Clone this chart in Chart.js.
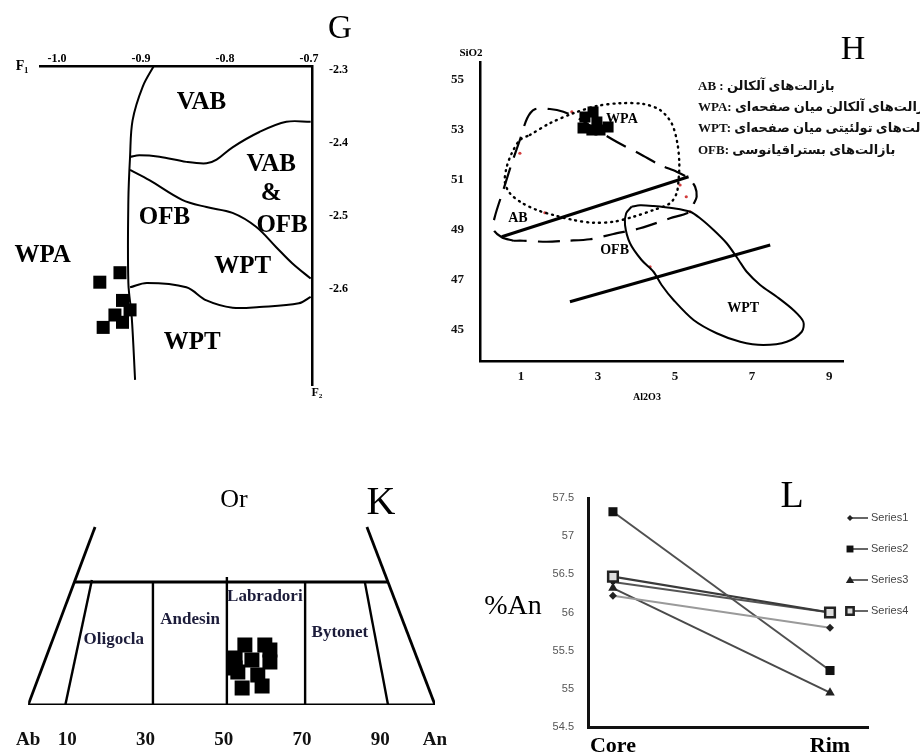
<!DOCTYPE html>
<html lang="fa">
<head>
<meta charset="utf-8">
<title>G H K L</title>
<script src="https://cdn.jsdelivr.net/npm/chart.js"></script>
<style>
  html, body { margin: 0; padding: 0; background: #fff; }
  #page { position: relative; width: 920px; height: 753px; overflow: hidden; background: #fff; }
  #page canvas { position: absolute; left: 0; top: 0; }
  .key { position: absolute; left: 698px; white-space: nowrap; direction: ltr;
         font: bold 13px "Liberation Serif", "DejaVu Sans", serif; line-height: 16px; color: #111; }
</style>
</head>
<body>
<div id="page">
  <canvas id="chartG" width="920" height="753"></canvas>
  <canvas id="chartH" width="920" height="753"></canvas>
  <canvas id="chartK" width="920" height="753"></canvas>
  <canvas id="chartL" width="920" height="753"></canvas>
  <div class="key" style="top:78px">AB : بازالت‌های آلکالن</div>
  <div class="key" style="top:99px">WPA: بازالت‌های آلکالن میان صفحه‌ای</div>
  <div class="key" style="top:120px">WPT: بازالت‌های تولئیتی میان صفحه‌ای</div>
  <div class="key" style="top:142px">OFB: بازالت‌های بستراقیانوسی</div>
</div>
<script>
const SERIF = '"Liberation Serif", "Times New Roman", serif';
const SANS = '"Liberation Sans", Arial, sans-serif';

// ---- G : F1 / F2 diagram ----
const gF1Ticks = [-1.0, -0.9, -0.8, -0.7];
const gF2Ticks = [-2.3, -2.4, -2.5, -2.6];
const gWestLine = [[-0.884, -2.293], [-0.898, -2.323], [-0.910, -2.369], [-0.913, -2.419], [-0.915, -2.478], [-0.915, -2.592], [-0.911, -2.639], [-0.907, -2.725]];
const gVabLine = [[-0.913, -2.419], [-0.902, -2.417], [-0.878, -2.419], [-0.846, -2.426], [-0.822, -2.428], [-0.810, -2.423], [-0.791, -2.406], [-0.759, -2.385], [-0.727, -2.371], [-0.698, -2.371]];
const gOfbLine = [[-0.913, -2.437], [-0.890, -2.451], [-0.851, -2.478], [-0.822, -2.488], [-0.791, -2.496], [-0.763, -2.515], [-0.739, -2.543], [-0.720, -2.565], [-0.698, -2.586]];
const gWptLine = [[-0.913, -2.598], [-0.893, -2.592], [-0.846, -2.598], [-0.822, -2.616], [-0.791, -2.626], [-0.759, -2.625], [-0.712, -2.620], [-0.698, -2.611]];
const gSamples = [[-0.949, -2.591], [-0.925, -2.578], [-0.922, -2.616], [-0.913, -2.629], [-0.931, -2.636], [-0.945, -2.653], [-0.922, -2.646]];

// ---- H : SiO2 vs Al2O3 ----
const hAlTicks = [1, 3, 5, 7, 9];
const hSiTicks = [45, 47, 49, 51, 53, 55];
const hAbOfbField = [[0.80, 48.57], [0.50, 48.71], [0.28, 49.03], [0.32, 49.53], [0.54, 50.60], [0.76, 51.67], [0.97, 52.60], [1.16, 53.47], [1.36, 53.83], [1.75, 53.84], [2.10, 53.73], [2.53, 53.43], [2.97, 53.00], [3.48, 52.53], [4.09, 52.04], [4.61, 51.60], [5.04, 51.33], [5.35, 51.07], [5.52, 50.73], [5.56, 50.33], [5.49, 50.07], [5.39, 49.73], [4.87, 49.47], [4.09, 49.07], [3.40, 48.84], [2.79, 48.63], [2.19, 48.57], [1.67, 48.53], [1.06, 48.57], [0.80, 48.57]];
const hWpaField = [[1.23, 52.80], [1.75, 53.27], [2.36, 53.67], [2.97, 53.96], [3.57, 54.07], [4.18, 54.04], [4.61, 53.80], [4.91, 53.27], [5.06, 52.47], [5.11, 51.67], [5.09, 51.00], [5.04, 50.47], [4.87, 50.07], [4.44, 49.80], [3.92, 49.53], [3.40, 49.33], [2.88, 49.29], [2.36, 49.40], [1.84, 49.60], [1.41, 49.80], [1.02, 50.09], [0.71, 50.47], [0.58, 50.93], [0.63, 51.53], [0.76, 52.07], [0.97, 52.60], [1.23, 52.80]];
const hWptField = [[3.87, 49.93], [3.73, 49.67], [3.70, 49.20], [3.83, 48.47], [4.13, 47.80], [4.44, 47.33], [4.65, 46.80], [4.96, 46.20], [5.48, 45.40], [6.08, 44.87], [6.69, 44.53], [7.29, 44.40], [7.90, 44.53], [8.29, 44.93], [8.33, 45.33], [8.07, 45.80], [7.64, 46.33], [7.21, 46.80], [6.86, 47.33], [6.65, 47.80], [6.34, 48.47], [6.00, 49.00], [5.65, 49.47], [5.39, 49.73], [4.96, 49.87], [4.44, 49.96], [4.09, 49.99], [3.87, 49.93]];
const hUpperTrend = [[0.50, 48.73], [5.35, 51.13]];
const hLowerTrend = [[2.27, 46.13], [7.47, 48.40]];
const hRedMarks = [[0.97, 52.07], [1.62, 49.69], [2.32, 53.73], [4.35, 47.53], [5.13, 50.80], [5.29, 50.33], [5.39, 49.73]];
const hSamples = [[2.87, 53.72], [2.66, 53.52], [2.97, 53.32], [2.61, 53.08], [3.05, 53.00], [3.26, 53.12], [2.84, 53.00]];

// ---- K : Ab - An plagioclase ----
const kTickValues = [0, 10, 30, 50, 70, 90, 104];
const kTickLabels = ['Ab', '10', '30', '50', '70', '90', 'An'];
const kBase = [[0, 0], [104, 0]];
const kTop = [[11.7, 66.5], [92.0, 66.5]];
const kLeftEdge = [[0, 0], [17.1, 96.2]];
const kRightEdge = [[104, 0], [86.6, 96.2]];
const kDividers = [
  [[9.5, 0], [16.3, 67.6]],
  [[31.9, 0], [31.9, 66.5]],
  [[50.8, 0], [50.8, 69.2]],
  [[70.8, 0], [70.8, 66.5]],
  [[92.0, 0], [86.1, 66.0]]
];
const kSamples = [[55.4, 32.4], [60.5, 32.4], [52.9, 25.4], [57.2, 24.3], [61.8, 23.2], [53.6, 17.8], [58.7, 16.2], [54.7, 9.2], [59.8, 10.3], [61.8, 29.7], [52.9, 20.0]];

// ---- L : %An core to rim ----
const lStages = ['Core', 'Rim'];
const lSeries1 = [56.22, 55.80];
const lSeries2 = [57.32, 55.24];
const lSeries3 = [56.32, 54.95];
const lSeries4 = [56.47, 56.00];
const lSeries5 = [56.40, 56.00];

const pts = arr => arr.map(([x, y]) => ({ x, y }));
const stagePts = arr => arr.map((y, i) => ({ x: i, y }));
const curve = (arr, extra) => Object.assign({
  data: pts(arr), showLine: true, borderColor: '#000', borderWidth: 2,
  pointRadius: 0, tension: 0.35, fill: false
}, extra || {});
const fixSize = size => scale => {
  if (scale.isHorizontal()) scale.height = size; else scale.width = size;
};
const setTicks = values => scale => { scale.ticks = values.map(v => ({ value: v })); };

// text written on the charts
const notes = {
  id: 'notes',
  afterDraw(chart, args, opts) {
    const { ctx, scales } = chart;
    ctx.save();
    (opts.items || []).forEach(it => {
      const x = it.px !== undefined ? it.px : scales.x.getPixelForValue(it.x);
      const y = it.py !== undefined ? it.py : scales.y.getPixelForValue(it.y);
      ctx.font = it.font;
      ctx.fillStyle = it.color || '#000';
      ctx.textAlign = it.align || 'center';
      ctx.textBaseline = 'middle';
      ctx.fillText(it.text, x, y);
    });
    ctx.restore();
  }
};

// little excel style key for panel L
const seriesKey = {
  id: 'seriesKey',
  afterDraw(chart, args, opts) {
    if (opts.x === undefined) return;
    const ctx = chart.ctx;
    let y = opts.y;
    ctx.save();
    chart.data.datasets.forEach(ds => {
      if (!ds.label) return;
      const x = opts.x;
      ctx.strokeStyle = '#333';
      ctx.lineWidth = 1.5;
      ctx.beginPath(); ctx.moveTo(x, y); ctx.lineTo(x + 18, y); ctx.stroke();
      ctx.fillStyle = ds.pointBackgroundColor;
      ctx.strokeStyle = ds.pointBorderColor;
      ctx.lineWidth = ds.pointBorderWidth || 0;
      const r = ds.pointRadius * 0.75;
      ctx.beginPath();
      if (ds.pointStyle === 'rect') {
        ctx.rect(x - r * 0.72, y - r * 0.72, r * 1.44, r * 1.44);
      } else if (ds.pointStyle === 'triangle') {
        ctx.moveTo(x, y - r); ctx.lineTo(x + r, y + r * 0.7); ctx.lineTo(x - r, y + r * 0.7); ctx.closePath();
      } else {
        ctx.moveTo(x, y - r); ctx.lineTo(x + r, y); ctx.lineTo(x, y + r); ctx.lineTo(x - r, y); ctx.closePath();
      }
      ctx.fill();
      if (ds.pointBorderWidth) ctx.stroke();
      ctx.font = `11px ${SANS}`;
      ctx.fillStyle = '#444';
      ctx.textAlign = 'left';
      ctx.textBaseline = 'middle';
      ctx.fillText(ds.label, x + 21, y);
      y += opts.gap;
    });
    ctx.restore();
  }
};

Chart.register(notes, seriesKey);

const base = {
  responsive: false,
  animation: false,
  events: [],
  plugins: { legend: { display: false }, tooltip: { enabled: false } }
};
const opts = (extra) => Object.assign({}, base, extra, {
  plugins: Object.assign({}, base.plugins, extra.plugins || {})
});

// G
new Chart(document.getElementById('chartG'), {
  type: 'scatter',
  data: {
    datasets: [
      curve(gWestLine), curve(gVabLine), curve(gOfbLine), curve(gWptLine),
      { data: pts(gSamples), pointStyle: 'rect', pointRadius: 9.2, pointBackgroundColor: '#000', pointBorderWidth: 0 }
    ]
  },
  options: opts({
    layout: { padding: { left: 40, top: 44, right: 563, bottom: 368 } },
    scales: {
      x: {
        type: 'linear', position: 'top', min: -1.0202, max: -0.6964,
        afterBuildTicks: setTicks(gF1Ticks), afterFit: fixSize(22),
        grid: { display: false }, border: { color: '#000', width: 2.5 },
        ticks: { font: { family: SERIF, size: 12, weight: 'bold' }, color: '#000', padding: -8, callback: v => v.toFixed(1) }
      },
      y: {
        type: 'linear', position: 'right', min: -2.732, max: -2.2945,
        afterBuildTicks: setTicks(gF2Ticks), afterFit: fixSize(45),
        grid: { display: false }, border: { color: '#000', width: 2.5 },
        ticks: { font: { family: SERIF, size: 12, weight: 'bold' }, color: '#000', padding: 9, callback: v => v.toFixed(1) }
      }
    },
    plugins: {
      notes: {
        items: [
          { text: 'G', px: 340, py: 29, font: `33px ${SERIF}` },
          { text: 'F₁', px: 22, py: 66, font: `bold 14px ${SERIF}` },
          { text: 'F₂', px: 317, py: 393, font: `bold 12px ${SERIF}` },
          { text: 'VAB', x: -0.828, y: -2.345, font: `bold 25px ${SERIF}` },
          { text: 'VAB', x: -0.745, y: -2.430, font: `bold 25px ${SERIF}` },
          { text: '&', x: -0.745, y: -2.469, font: `bold 25px ${SERIF}` },
          { text: 'OFB', x: -0.732, y: -2.513, font: `bold 25px ${SERIF}` },
          { text: 'OFB', x: -0.872, y: -2.502, font: `bold 25px ${SERIF}` },
          { text: 'WPT', x: -0.779, y: -2.570, font: `bold 25px ${SERIF}` },
          { text: 'WPA', x: -1.017, y: -2.554, font: `bold 25px ${SERIF}` },
          { text: 'WPT', x: -0.839, y: -2.674, font: `bold 25px ${SERIF}` }
        ]
      }
    }
  })
});

// H
new Chart(document.getElementById('chartH'), {
  type: 'scatter',
  data: {
    datasets: [
      curve(hAbOfbField, { borderDash: [22, 11], borderWidth: 2.2, tension: 0.3 }),
      curve(hWpaField, { borderDash: [1, 5], borderWidth: 2.4, borderCapStyle: 'round', tension: 0.3 }),
      curve(hWptField, { borderWidth: 2, tension: 0.3 }),
      curve(hUpperTrend, { borderWidth: 3, tension: 0 }),
      curve(hLowerTrend, { borderWidth: 3, tension: 0 }),
      { data: pts(hRedMarks), pointRadius: 1.6, pointBackgroundColor: '#d23c3c', pointBorderWidth: 0 },
      { data: pts(hSamples), pointStyle: 'rect', pointRadius: 7.8, pointBackgroundColor: '#000', pointBorderWidth: 0 }
    ]
  },
  options: opts({
    layout: { padding: { left: 440, top: 62, right: 77, bottom: 368 } },
    scales: {
      x: {
        type: 'linear', position: 'bottom', min: -0.065, max: 9.36,
        afterBuildTicks: setTicks(hAlTicks), afterFit: fixSize(24),
        grid: { display: false }, border: { color: '#000', width: 2.5 },
        ticks: { font: { family: SERIF, size: 13, weight: 'bold' }, color: '#111', padding: 0 }
      },
      y: {
        type: 'linear', position: 'left', min: 43.76, max: 55.72,
        afterBuildTicks: setTicks(hSiTicks), afterFit: fixSize(40),
        grid: { display: false }, border: { color: '#000', width: 2.5 },
        ticks: { font: { family: SERIF, size: 13, weight: 'bold' }, color: '#111', padding: 8 }
      }
    },
    plugins: {
      notes: {
        items: [
          { text: 'H', px: 853, py: 50, font: `34px ${SERIF}` },
          { text: 'SiO2', px: 471, py: 53, font: `bold 11px ${SERIF}` },
          { text: 'Al2O3', px: 647, py: 397, font: `bold 10px ${SERIF}` },
          { text: 'WPA', x: 3.62, y: 53.44, font: `bold 14px ${SERIF}` },
          { text: 'AB', x: 0.92, y: 49.48, font: `bold 14px ${SERIF}` },
          { text: 'OFB', x: 3.43, y: 48.2, font: `bold 14px ${SERIF}` },
          { text: 'WPT', x: 6.77, y: 45.88, font: `bold 14px ${SERIF}` }
        ]
      }
    }
  })
});

// K
new Chart(document.getElementById('chartK'), {
  type: 'scatter',
  data: {
    datasets: [
      curve(kBase, { borderWidth: 3.2, tension: 0 }),
      curve(kTop, { borderWidth: 3.2, tension: 0 }),
      curve(kLeftEdge, { borderWidth: 2.8, tension: 0 }),
      curve(kRightEdge, { borderWidth: 2.8, tension: 0 }),
      ...kDividers.map(d => curve(d, { borderWidth: 2.4, tension: 0 })),
      { data: pts(kSamples), pointStyle: 'rect', pointRadius: 10.6, pointBackgroundColor: '#000', pointBorderWidth: 0 }
    ]
  },
  options: opts({
    layout: { padding: { left: 28, top: 520, right: 485, bottom: 8 } },
    scales: {
      x: {
        type: 'linear', position: 'bottom', min: 0, max: 104,
        afterBuildTicks: setTicks(kTickValues), afterFit: fixSize(40),
        grid: { display: false }, border: { display: false },
        ticks: {
          font: { family: SERIF, size: 19, weight: 'bold' }, color: '#111', padding: 16,
          callback: v => kTickLabels[kTickValues.indexOf(v)]
        }
      },
      y: { type: 'linear', display: false, min: 0, max: 100 }
    },
    plugins: {
      notes: {
        items: [
          { text: 'K', px: 381, py: 503, font: `40px ${SERIF}` },
          { text: 'Or', px: 234, py: 500, font: `26px ${SERIF}` },
          { text: 'Oligocla', x: 21.9, y: 35.1, font: `bold 17px ${SERIF}`, color: '#1c1c3a' },
          { text: 'Andesin', x: 41.4, y: 45.9, font: `bold 17px ${SERIF}`, color: '#1c1c3a' },
          { text: 'Labradori', x: 60.5, y: 58.4, font: `bold 17px ${SERIF}`, color: '#1c1c3a' },
          { text: 'Bytonet', x: 79.7, y: 38.9, font: `bold 17px ${SERIF}`, color: '#1c1c3a' }
        ]
      }
    }
  })
});

// L
new Chart(document.getElementById('chartL'), {
  type: 'line',
  data: {
    datasets: [
      { label: 'Series1', data: stagePts(lSeries1), borderColor: '#9a9a9a', borderWidth: 2, pointStyle: 'rectRot', pointRadius: 4, pointBackgroundColor: '#222', pointBorderColor: '#222', pointBorderWidth: 0 },
      { label: 'Series2', data: stagePts(lSeries2), borderColor: '#505050', borderWidth: 2, pointStyle: 'rect', pointRadius: 6.4, pointBackgroundColor: '#111', pointBorderColor: '#111', pointBorderWidth: 0 },
      { label: 'Series3', data: stagePts(lSeries3), borderColor: '#4a4a4a', borderWidth: 2, pointStyle: 'triangle', pointRadius: 5.5, pointBackgroundColor: '#222', pointBorderColor: '#222', pointBorderWidth: 0 },
      { label: 'Series4', data: stagePts(lSeries4), borderColor: '#3a3a3a', borderWidth: 2.2, pointStyle: 'rect', pointRadius: 6.8, pointBackgroundColor: '#ddd', pointBorderColor: '#222', pointBorderWidth: 2.5 },
      { label: '', data: stagePts(lSeries5), borderColor: '#555', borderWidth: 2, pointStyle: 'circle', pointRadius: 2.5, pointBackgroundColor: '#222', pointBorderWidth: 0 }
    ]
  },
  options: opts({
    layout: { padding: { left: 543, top: 498, right: 52, bottom: 0 } },
    scales: {
      x: {
        type: 'linear', position: 'bottom', min: -0.115, max: 1.175,
        afterBuildTicks: setTicks([0, 1]), afterFit: fixSize(26),
        grid: { display: false }, border: { color: '#111', width: 3 },
        ticks: { font: { family: SERIF, size: 22, weight: 'bold' }, color: '#000', padding: -2, callback: v => lStages[v] }
      },
      y: {
        type: 'linear', position: 'left', min: 54.5, max: 57.5,
        afterFit: fixSize(45),
        grid: { display: false }, border: { color: '#111', width: 3 },
        ticks: { stepSize: 0.5, font: { family: SANS, size: 11 }, color: '#555', padding: 6, callback: v => String(v) }
      }
    },
    plugins: {
      seriesKey: { x: 850, y: 518, gap: 31 },
      notes: {
        items: [
          { text: 'L', px: 792, py: 497, font: `38px ${SERIF}` },
          { text: '%An', px: 513, py: 607, font: `28px ${SERIF}` }
        ]
      }
    }
  })
});
</script>
</body>
</html>
